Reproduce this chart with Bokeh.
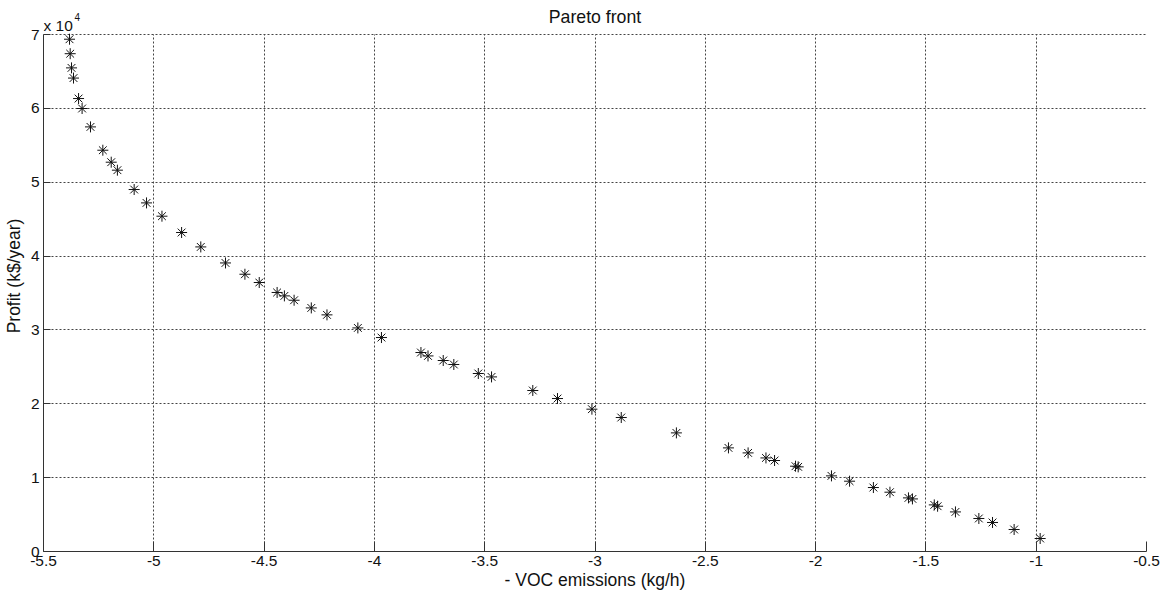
from bokeh.plotting import figure
from bokeh.models import FixedTicker, Label, Range1d
from bokeh.embed import file_html
from bokeh.resources import INLINE

# ---- data ----
voc = [-5.382, -5.379, -5.373, -5.364, -5.341, -5.325, -5.287, -5.231, -5.193, -5.165,
       -5.089, -5.033, -4.963, -4.874, -4.787, -4.675, -4.587, -4.522, -4.441, -4.408,
       -4.364, -4.286, -4.215, -4.075, -3.968, -3.789, -3.757, -3.688, -3.640, -3.529,
       -3.469, -3.282, -3.170, -3.014, -2.881, -2.631, -2.395, -2.306, -2.225, -2.186,
       -2.091, -2.079, -1.928, -1.846, -1.738, -1.663, -1.579, -1.561, -1.462, -1.447,
       -1.366, -1.260, -1.198, -1.100, -0.982]
profit = [69360, 67400, 65480, 64100, 61330, 59980, 57490, 54330, 52710, 51630,
          49010, 47200, 45400, 43190, 41240, 39070, 37540, 36420, 35070, 34610,
          34020, 32980, 32040, 30270, 28970, 26940, 26480, 25860, 25320, 24100,
          23640, 21800, 20710, 19270, 18140, 16060, 14030, 13350, 12670, 12320,
          11550, 11460, 10240, 9520, 8660, 8030, 7260, 7120, 6310, 6130,
          5360, 4470, 3930, 2980, 1760]

x_ticks = [-5.5, -5.0, -4.5, -4.0, -3.5, -3.0, -2.5, -2.0, -1.5, -1.0, -0.5]
x_tick_labels = ["-5.5", "-5", "-4.5", "-4", "-3.5", "-3", "-2.5", "-2", "-1.5", "-1", "-0.5"]
y_ticks = [0, 10000, 20000, 30000, 40000, 50000, 60000, 70000]
y_tick_labels = ["0", "1", "2", "3", "4", "5", "6", "7"]

title_text = "Pareto front"
x_label = "- VOC emissions (kg/h)"
y_label = "Profit (k$/year)"
exp_base = "x 10"
exp_power = "4"

FONT = "Liberation Sans"
TXT = "#111111"
AX = "#333333"

W, H = 1164, 592
B_LEFT, B_RIGHT, B_BOTTOM = 42, 18, 41
TOP_GAP = 34                      # px between canvas top and the y=7e4 line
x0, x1 = x_ticks[0], x_ticks[-1]
y0, y1 = y_ticks[0], y_ticks[-1]
frame_h = H - B_BOTTOM
y_top = y1 * frame_h / (frame_h - TOP_GAP)
px_per_y = (frame_h - TOP_GAP) / (y1 - y0)
px_per_x = (W - B_LEFT - B_RIGHT) / (x1 - x0)

p = figure(width=W, height=H, output_backend="svg", toolbar_location=None,
           x_range=Range1d(x0, x1), y_range=Range1d(y0, y_top),
           min_border_left=B_LEFT, min_border_top=0, min_border_right=B_RIGHT,
           min_border_bottom=B_BOTTOM)

p.outline_line_color = None
p.background_fill_color = "white"
p.border_fill_color = "white"

p.scatter(voc, profit, marker="asterisk", size=11, line_color="#111111", line_width=1)

for ax in (p.xaxis[0], p.yaxis[0]):
    ax.axis_line_color = AX
    ax.major_tick_line_color = AX
    ax.major_tick_out = 0
    ax.minor_tick_in = 0
    ax.minor_tick_out = 0
    ax.major_label_text_font = FONT
    ax.major_label_text_font_size = "15.5px"
    ax.major_label_text_color = TXT
    ax.axis_label_text_font = FONT
    ax.axis_label_text_font_size = "17.5px"
    ax.axis_label_text_font_style = "normal"
    ax.axis_label_text_color = TXT

p.xaxis.ticker = FixedTicker(ticks=x_ticks)
p.xaxis.major_label_overrides = dict(zip(x_ticks, x_tick_labels))
p.xaxis.major_tick_in = 10
p.xaxis.major_label_standoff = 4
p.xaxis.axis_label = x_label
p.xaxis.axis_label_standoff = 1

p.yaxis.ticker = FixedTicker(ticks=y_ticks)
p.yaxis.major_label_overrides = dict(zip(y_ticks, y_tick_labels))
p.yaxis.major_tick_in = 7
p.yaxis.major_label_standoff = 4
p.yaxis.axis_label = y_label
p.yaxis.axis_label_standoff = 4
p.yaxis.bounds = (y0, y1)

for g in (p.xgrid[0], p.ygrid[0]):
    g.grid_line_color = "#444444"
    g.grid_line_dash = "2 2"
    g.grid_line_width = 1
p.xgrid[0].cross_bounds = (y0, y1)

# title and multiplier, placed in the band above the 7e4 line
p.add_layout(Label(x=(x0 + x1) / 2, y=y1 + 18 / px_per_y, text=title_text,
                   text_font=FONT, text_font_size="17.7px", text_color=TXT,
                   text_align="center", text_baseline="middle"))
p.add_layout(Label(x=x0, y=y1 + 9 / px_per_y, text=exp_base,
                   text_font=FONT, text_font_size="15.5px", text_color=TXT,
                   text_align="left", text_baseline="middle"))
p.add_layout(Label(x=x0 + 31 / px_per_x, y=y1 + 17.5 / px_per_y, text=exp_power,
                   text_font=FONT, text_font_size="10px", text_color=TXT,
                   text_align="left", text_baseline="middle"))

open("out.html", "w").write(file_html(p, INLINE))
